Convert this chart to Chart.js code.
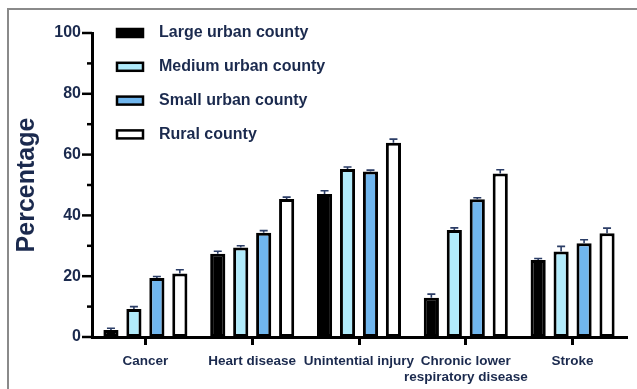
<!DOCTYPE html>
<html>
<head>
<meta charset="utf-8">
<script src="https://cdn.jsdelivr.net/npm/chart.js@4/dist/chart.umd.min.js"></script>
<style>
  html, body { margin: 0; padding: 0; background: #ffffff; }
  #wrap { position: relative; width: 637px; height: 389px; overflow: hidden; }
  #frame { position: absolute; left: 7px; top: 8px; width: 700px; height: 500px;
           border-top: 2px solid #8a8a8a; border-left: 2px solid #8a8a8a; }
  canvas { position: absolute; left: 0; top: 0; }
</style>
</head>
<body>
<div id="wrap">
  <div id="frame"></div>
  <canvas id="chart" width="637" height="389"></canvas>
</div>
<script>
// Causes of death by county urbanization level
const categories = ['Cancer', 'Heart disease', 'Unintential injury', ['Chronic lower', 'respiratory disease'], 'Stroke'];
const seriesNames = ['Large urban county', 'Medium urban county', 'Small urban county', 'Rural county'];

const largeUrban  = [2.3, 27.4, 47.0, 12.9, 25.3];
const mediumUrban = [9.2, 29.4, 55.3, 35.2, 28.1];
const smallUrban  = [19.4, 34.3, 54.4, 45.3, 30.8];
const rural       = [20.9, 45.4, 63.9, 53.8, 34.1];

// upper error (SE) for each bar
const largeUrbanErr  = [0.6, 0.8, 1.1, 1.2, 0.5];
const mediumUrbanErr = [0.8, 0.6, 0.6, 0.7, 1.7];
const smallUrbanErr  = [0.5, 0.7, 0.5, 0.5, 1.2];
const ruralErr       = [1.2, 0.6, 1.2, 1.2, 1.7];

const yTicks = [0, 20, 40, 60, 80, 100];

const NAVY = '#1b2a4e';
const fills = ['#000000', '#b1ebfb', '#70b6ee', '#ffffff'];
const values = [largeUrban, mediumUrban, smallUrban, rural];
const errors = [largeUrbanErr, mediumUrbanErr, smallUrbanErr, ruralErr];

const datasets = seriesNames.map((name, i) => ({
  label: name,
  data: values[i],
  errors: errors[i],
  backgroundColor: fills[i],
  borderColor: '#000000',
  borderWidth: 3,
  borderSkipped: false,
  categoryPercentage: 0.86,
  barPercentage: 0.66
}));

// upper error bars with caps
const errorBars = {
  id: 'errorBars',
  afterDatasetsDraw(chart) {
    const ctx = chart.ctx;
    const y = chart.scales.y;
    ctx.save();
    ctx.strokeStyle = '#2b3d66';
    ctx.lineWidth = 1.6;
    chart.data.datasets.forEach((ds, di) => {
      const meta = chart.getDatasetMeta(di);
      meta.data.forEach((el, i) => {
        const top = y.getPixelForValue(ds.data[i] + ds.errors[i]);
        ctx.beginPath();
        ctx.moveTo(el.x, el.y);
        ctx.lineTo(el.x, top);
        ctx.moveTo(el.x - 4, top);
        ctx.lineTo(el.x + 4, top);
        ctx.stroke();
      });
    });
    ctx.restore();
  }
};

// major / minor tick marks on the value axis
const yTickMarks = {
  id: 'yTickMarks',
  afterDraw(chart) {
    const ctx = chart.ctx;
    const y = chart.scales.y;
    const x0 = chart.chartArea.left;
    ctx.save();
    ctx.strokeStyle = '#000000';
    ctx.lineWidth = 2.5;
    y.ticks.forEach(t => {
      const py = y.getPixelForValue(t.value);
      const len = yTicks.includes(t.value) ? 10 : 5;
      ctx.beginPath();
      ctx.moveTo(x0 - len, py);
      ctx.lineTo(x0, py);
      ctx.stroke();
    });
    ctx.restore();
  }
};

// legend placed inside the plot, upper left
const insideLegend = {
  id: 'insideLegend',
  afterDraw(chart) {
    const ctx = chart.ctx;
    const left = chart.chartArea.left + 25;
    const top = chart.chartArea.top;
    ctx.save();
    ctx.font = 'bold 16px "Liberation Sans", Arial, sans-serif';
    ctx.textBaseline = 'middle';
    chart.data.datasets.forEach((ds, i) => {
      const cy = top + i * 33.8;
      ctx.fillStyle = ds.backgroundColor;
      ctx.fillRect(left, cy - 4, 26, 8);
      ctx.strokeStyle = '#000000';
      ctx.lineWidth = 2.5;
      ctx.strokeRect(left, cy - 4, 26, 8);
      ctx.fillStyle = NAVY;
      ctx.fillText(ds.label, left + 42, cy);
    });
    ctx.restore();
  }
};

new Chart(document.getElementById('chart'), {
  type: 'bar',
  data: { labels: categories, datasets },
  options: {
    responsive: false,
    animation: false,
    layout: { padding: { top: 33, right: 11, left: 0, bottom: 0 } },
    plugins: { legend: { display: false }, tooltip: { enabled: false } },
    scales: {
      x: {
        grid: { display: true, drawOnChartArea: false, drawTicks: true, tickLength: 8,
                lineWidth: 3, color: '#000000', offset: false },
        border: { display: true, width: 3, color: '#000000' },
        ticks: { color: NAVY, padding: 8, maxRotation: 0, autoSkip: false,
                 font: { family: '"Liberation Sans", Arial, sans-serif', size: 13.5, weight: 'bold', lineHeight: 1.2 } },
        afterFit(scale) { scale.height = 52; }
      },
      y: {
        min: 0, max: 100,
        grid: { display: false, drawTicks: false },
        border: { display: true, width: 3, color: '#000000' },
        ticks: {
          stepSize: 10, padding: 11, color: NAVY,
          font: { family: '"Liberation Sans", Arial, sans-serif', size: 16, weight: 'bold' },
          callback: v => (yTicks.includes(v) ? String(v) : '')
        },
        title: {
          display: true, text: 'Percentage', color: NAVY,
          padding: { top: 12, bottom: 0 },
          font: { family: '"Liberation Sans", Arial, sans-serif', size: 25, weight: 'bold' }
        },
        afterFit(scale) { scale.width = 92; }
      }
    }
  },
  plugins: [errorBars, yTickMarks, insideLegend]
});
</script>
</body>
</html>
